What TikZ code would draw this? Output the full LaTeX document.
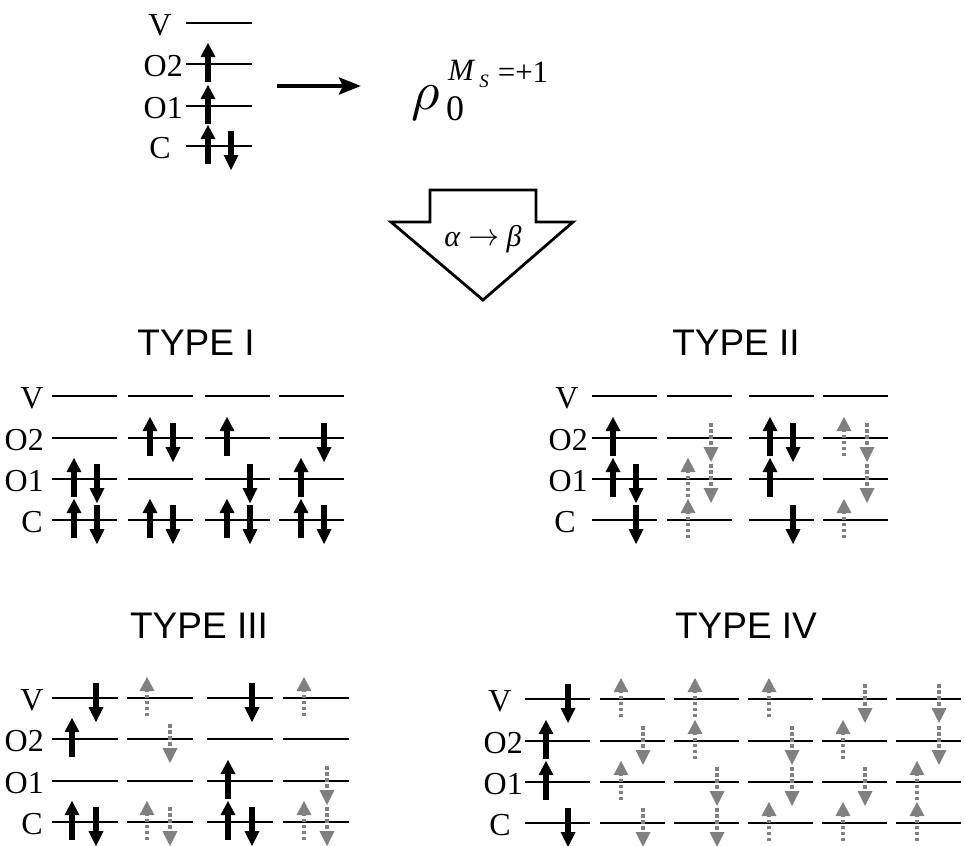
\documentclass[tikz,border=0pt]{standalone}
\usepackage{amsmath}
\usepackage{fontspec}
\setmainfont{Liberation Serif}
\newfontfamily\titlefont{Liberation Sans}
\usetikzlibrary{arrows.meta}
\definecolor{agray}{RGB}{128,128,128}
\tikzset{
  lab/.style={font=\fontsize{32}{32}\selectfont, inner sep=0pt},
  ttl/.style={font=\titlefont\fontsize{37}{37}\selectfont, inner sep=0pt},
  lvl/.style={line width=1.3pt, black},
  gshaft/.style={agray, line width=3.6pt, dash pattern=on 3.5pt off 2.5pt},
  bu/.pic={\fill[black] (-2.7,18) rectangle (2.7,-8);
           \fill[black] (-7.5,-7) -- (7.5,-7) -- (0,-21) -- cycle;},
  bd/.pic={\fill[black] (-2.7,-15) rectangle (2.7,10);
           \fill[black] (-7.5,9) -- (7.5,9) -- (0,24) -- cycle;},
  gu/.pic={\draw[gshaft] (0,18) -- (0,-7);
           \fill[agray] (-7.5,-7) -- (7.5,-7) -- (0,-21) -- cycle;},
  gd/.pic={\draw[gshaft] (0,-15) -- (0,9);
           \fill[agray] (-7.5,9) -- (7.5,9) -- (0,24) -- cycle;},
}
\begin{document}
\begin{tikzpicture}[x=1pt,y=-1pt]
\useasboundingbox (0,0) rectangle (964,846);

% ---------- top diagram ----------
\foreach \ly in {23,64,106,146} \draw[lvl] (186,\ly) -- (252,\ly);
\node[lab] (tV) at (160,25) {V};
\node[lab, anchor=east] (tO2) at (183,66) {O2};
\node[lab, anchor=east] (tO1) at (183,108) {O1};
\node[lab] (tC) at (160,148) {C};
\pic at (208,64) {bu};
\pic at (208,106) {bu};
\pic at (208,146) {bu};
\pic at (231,146) {bd};

\coordinate (ma) at (277,86);
\coordinate (mb) at (361,86);
\draw[line width=4pt, -{Stealth[length=22pt,width=17pt,inset=4pt]}] (ma) -- (mb);

\node[inner sep=0pt, scale=5.5] (rho) at (426,103) {\(\rho\)};
\node[inner sep=0pt, font=\fontsize{36}{36}\selectfont] (rho0) at (455,109) {0};
\node[inner sep=0pt, font=\fontsize{31}{31}\selectfont\itshape] (rhoM) at (461,70) {M};
\node[inner sep=0pt, font=\fontsize{19}{19}\selectfont\itshape] (rhoS) at (484,81) {S};
\node[inner sep=0pt, font=\fontsize{31}{31}\selectfont] (rhoE) at (523,72) {=+1};

% ---------- block arrow ----------
\draw[line width=2.8pt, line join=miter] (430,190) -- (536,190) -- (536,222) -- (573,222)
  -- (483,300) -- (391,222) -- (430,222) -- cycle;
\node[inner sep=0pt, font=\fontsize{30}{30}\selectfont] (ab) at (483,239)
  {\textit{α} \raisebox{1pt}{\scalebox{1.25}{\(\rightarrow\)}} \textit{β}};

% ---------- titles ----------
\node[ttl] (t1) at (196,343) {TYPE I};
\node[ttl] (t2) at (736,343) {TYPE II};
\node[ttl] (t3) at (199,626) {TYPE III};
\node[ttl] (t4) at (746,626) {TYPE IV};

% ---------- TYPE I ----------
\foreach \cx in {52,128,205,279}
  \foreach \ly in {396,438,479,520} \draw[lvl] (\cx,\ly) -- ++(65,0);
\node[lab] (aV) at (32,398) {V};
\node[lab, anchor=east] (aO2) at (44,440) {O2};
\node[lab, anchor=east] (aO1) at (44,481) {O1};
\node[lab] (aC) at (32,522) {C};
\pic at (74,479) {bu}; \pic at (97,479) {bd}; \pic at (74,520) {bu}; \pic at (97,520) {bd};
\pic at (150,438) {bu}; \pic at (173,438) {bd}; \pic at (150,520) {bu}; \pic at (173,520) {bd};
\pic at (227,438) {bu}; \pic at (250,479) {bd}; \pic at (227,520) {bu}; \pic at (250,520) {bd};
\pic at (324,438) {bd}; \pic at (301,479) {bu}; \pic at (301,520) {bu}; \pic at (324,520) {bd};

% ---------- TYPE II ----------
\foreach \cx in {592,667,749,823}
  \foreach \ly in {396,438,479,520} \draw[lvl] (\cx,\ly) -- ++(65,0);
\node[lab] (bV) at (567,398) {V};
\node[lab, anchor=east] (bO2) at (588,440) {O2};
\node[lab, anchor=east] (bO1) at (588,481) {O1};
\node[lab] (bC) at (565,522) {C};
\pic at (613,438) {bu}; \pic at (613,479) {bu}; \pic at (636,479) {bd}; \pic at (636,520) {bd};
\pic at (711,438) {gd}; \pic at (688,479) {gu}; \pic at (711,479) {gd}; \pic at (688,520) {gu};
\pic at (770,438) {bu}; \pic at (793,438) {bd}; \pic at (770,479) {bu}; \pic at (793,520) {bd};
\pic at (844,438) {gu}; \pic at (867,438) {gd}; \pic at (867,479) {gd}; \pic at (844,520) {gu};

% ---------- TYPE III ----------
\foreach \cx in {52,127,207,283}
  \foreach \ly in {698,739,781,822} \draw[lvl] (\cx,\ly) -- ++(66,0);
\node[lab] (cV) at (32,700) {V};
\node[lab, anchor=east] (cO2) at (44,741) {O2};
\node[lab, anchor=east] (cO1) at (44,783) {O1};
\node[lab] (cC) at (32,824) {C};
\pic at (96,698) {bd}; \pic at (72,739) {bu}; \pic at (72,822) {bu}; \pic at (96,822) {bd};
\pic at (147,698) {gu}; \pic at (170,739) {gd}; \pic at (147,822) {gu}; \pic at (170,822) {gd};
\pic at (252,698) {bd}; \pic at (228,781) {bu}; \pic at (228,822) {bu}; \pic at (252,822) {bd};
\pic at (304,698) {gu}; \pic at (327,781) {gd}; \pic at (304,822) {gu}; \pic at (327,822) {gd};

% ---------- TYPE IV ----------
\foreach \cx in {525,600,674,748,822,896}
  \foreach \ly in {699,741,782,823} \draw[lvl] (\cx,\ly) -- ++(65,0);
\node[lab] (dV) at (500,701) {V};
\node[lab, anchor=east] (dO2) at (523,743) {O2};
\node[lab, anchor=east] (dO1) at (523,784) {O1};
\node[lab] (dC) at (500,825) {C};
\pic at (568,699) {bd}; \pic at (546,741) {bu}; \pic at (546,782) {bu}; \pic at (568,823) {bd};
\pic at (621,699) {gu}; \pic at (643,741) {gd}; \pic at (621,782) {gu}; \pic at (643,823) {gd};
\pic at (695,699) {gu}; \pic at (695,741) {gu}; \pic at (717,782) {gd}; \pic at (717,823) {gd};
\pic at (769,699) {gu}; \pic at (792,741) {gd}; \pic at (792,782) {gd}; \pic at (769,823) {gu};
\pic at (865,699) {gd}; \pic at (843,741) {gu}; \pic at (865,782) {gd}; \pic at (843,823) {gu};
\pic at (939,699) {gd}; \pic at (939,741) {gd}; \pic at (917,782) {gu}; \pic at (917,823) {gu};
\end{tikzpicture}
\end{document}
